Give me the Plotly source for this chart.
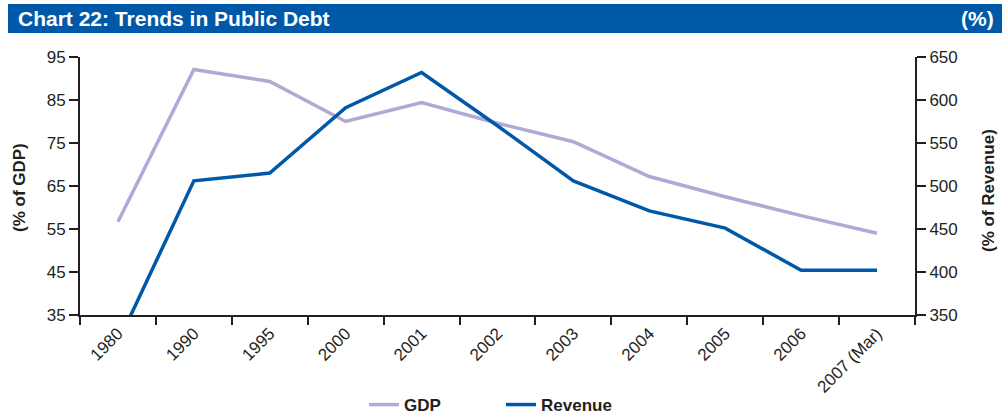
import plotly.graph_objects as go

# Public debt series, per year
years = ["1980", "1990", "1995", "2000", "2001", "2002", "2003",
         "2004", "2005", "2006", "2007 (Mar)"]
debt_gdp = [56.7, 92.1, 89.3, 80.0, 84.4, 79.6, 75.3, 67.2, 62.5, 58.1, 54.0]
debt_revenue = [318, 506, 515, 591, 632, 570, 506, 471, 451, 402, 402]

gdp_ticks = [35, 45, 55, 65, 75, 85, 95]
rev_ticks = [350, 400, 450, 500, 550, 600, 650]

FONT = "Arial, Liberation Sans, Helvetica, sans-serif"
AXIS_COLOR = "#231f20"
GDP_COLOR = "#b1a9d5"
REV_COLOR = "#0059a8"
BAR_COLOR = "#0059a8"

W, H = 1002, 416
M_L, M_R, M_T, M_B = 80, 87, 57, 101
PW = W - M_L - M_R
PH = H - M_T - M_B


def px_x(p):
    return (p - M_L) / PW


def px_y(p):
    return (H - M_B - p) / PH


fig = go.Figure()
fig.add_trace(go.Scatter(
    x=years, y=debt_gdp, name="<b>GDP</b>", mode="lines",
    line=dict(color=GDP_COLOR, width=3.5), yaxis="y"))
fig.add_trace(go.Scatter(
    x=years, y=debt_revenue, name="<b>Revenue</b>", mode="lines",
    line=dict(color=REV_COLOR, width=3.5), yaxis="y2"))

fig.update_layout(
    width=W, height=H,
    margin=dict(l=M_L, r=M_R, t=M_T, b=M_B, autoexpand=False),
    paper_bgcolor="white", plot_bgcolor="white",
    font=dict(family=FONT, size=17, color="#231f20"),
    showlegend=True,
    legend=dict(orientation="h", x=0.5, xanchor="center", xref="container",
                y=(H - 405) / H, yanchor="middle", yref="container",
                font=dict(family=FONT, size=17, color="#231f20"),
                entrywidth=92, entrywidthmode="pixels"),
    xaxis=dict(type="category", range=[-0.5, len(years) - 0.5],
               tickson="boundaries", ticks="outside",
               ticklen=8, tickwidth=2, tickcolor=AXIS_COLOR,
               showline=True, linecolor=AXIS_COLOR, linewidth=2,
               tickangle=-45, showgrid=False, zeroline=False,
               tickfont=dict(size=17), automargin=False),
    yaxis=dict(range=[35, 95], tickvals=gdp_ticks, ticks="outside",
               ticklen=9, tickwidth=2, tickcolor=AXIS_COLOR,
               showline=True, linecolor=AXIS_COLOR, linewidth=2,
               showgrid=False, zeroline=False, tickfont=dict(size=17),
               automargin=False),
    yaxis2=dict(range=[350, 650], tickvals=rev_ticks, overlaying="y",
                side="right", ticks="outside", ticklen=9, tickwidth=2,
                tickcolor=AXIS_COLOR, showline=True, linecolor=AXIS_COLOR,
                linewidth=2, showgrid=False, zeroline=False,
                tickfont=dict(size=17), automargin=False),
)

# Title banner
fig.add_shape(type="rect", xref="paper", yref="paper",
              x0=px_x(8), x1=px_x(1002), y0=px_y(33), y1=px_y(4),
              fillcolor=BAR_COLOR, line=dict(width=0), layer="above")
fig.add_annotation(xref="paper", yref="paper", x=px_x(16), y=px_y(18.5),
                   xanchor="left", yanchor="middle", showarrow=False,
                   text="<b>Chart 22: Trends in Public Debt</b>",
                   font=dict(family=FONT, size=21, color="white"))
fig.add_annotation(xref="paper", yref="paper", x=px_x(996), y=px_y(18.5),
                   xanchor="right", yanchor="middle", showarrow=False,
                   text="<b>(%)</b>",
                   font=dict(family=FONT, size=21, color="white"))

# Axis titles
fig.add_annotation(xref="paper", yref="paper", x=px_x(19), y=px_y(188),
                   xanchor="center", yanchor="middle", showarrow=False,
                   textangle=-90, text="<b>(% of GDP)</b>",
                   font=dict(family=FONT, size=17, color="#231f20"))
fig.add_annotation(xref="paper", yref="paper", x=px_x(988), y=px_y(191),
                   xanchor="center", yanchor="middle", showarrow=False,
                   textangle=-90, text="<b>(% of Revenue)</b>",
                   font=dict(family=FONT, size=17, color="#231f20"))

fig.write_html("out.html")
